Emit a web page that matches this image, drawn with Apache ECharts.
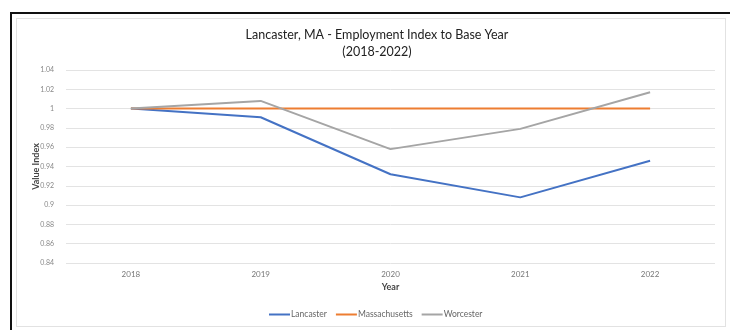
<!DOCTYPE html>
<html>
<head>
<meta charset="utf-8">
<script src="https://cdn.jsdelivr.net/npm/echarts@6/dist/echarts.min.js"></script>
<style>
  html, body { margin: 0; padding: 0; background: #fff; }
  #wrap { position: relative; width: 730px; height: 330px; overflow: hidden; }
  #frame { position: absolute; left: 10px; top: 12px; width: 740px; height: 340px; border: 2px solid #111; box-sizing: border-box; }
  #inner { position: absolute; left: 16px; top: 18px; width: 710px; height: 309px; border: 1px solid #e2e2e2; box-sizing: border-box; }
  #chart { position: absolute; left: 0; top: 0; width: 730px; height: 330px; }
</style>
</head>
<body>
<div id="wrap">
  <div id="frame"></div>
  <div id="inner"></div>
  <div id="chart"></div>
</div>
<script>
// Employment index relative to 2018
const years = ['2018', '2019', '2020', '2021', '2022'];
const lancaster = [1.0, 0.991, 0.932, 0.908, 0.946];
const massachusetts = [1.0, 1.0, 1.0, 1.0, 1.0];
const worcester = [1.0, 1.008, 0.958, 0.979, 1.017];

const chart = echarts.init(document.getElementById('chart'), null, { renderer: 'canvas' });
const font = 'Lato, "Open Sans", sans-serif';

chart.setOption({
  backgroundColor: 'transparent',
  animation: false,
  title: {
    text: 'Lancaster, MA - Employment Index to Base Year\n(2018-2022)',
    left: 372, top: 21, textAlign: 'center',
    textStyle: { fontFamily: font, fontSize: 12.5, fontWeight: 'normal', color: '#222', lineHeight: 17 }
  },
  legend: {
    bottom: 6, left: 264,
    itemWidth: 21, itemHeight: 2, itemGap: 9,
    icon: 'rect',
    textStyle: { fontFamily: font, fontSize: 8.5, color: '#666', padding: [0, 0, 0, -4] },
    data: ['Lancaster', 'Massachusetts', 'Worcester']
  },
  grid: { left: 66, right: 15, top: 70, bottom: 67, containLabel: false },
  xAxis: {
    type: 'category',
    data: years,
    boundaryGap: true,
    name: 'Year', nameLocation: 'middle', nameGap: 19,
    nameTextStyle: { fontFamily: font, fontSize: 9, fontWeight: 'bold', color: '#444' },
    axisLine: { show: false },
    axisTick: { show: false },
    axisLabel: { fontFamily: font, fontSize: 8, color: '#777', margin: 7 }
  },
  yAxis: {
    type: 'value',
    min: 0.84, max: 1.04, interval: 0.02,
    name: 'Value Index', nameLocation: 'middle', nameGap: 25, nameRotate: 90,
    nameMoveOverlap: false,
    nameTextStyle: { fontFamily: font, fontSize: 9, fontWeight: 'bold', color: '#444' },
    axisLine: { show: false },
    axisTick: { show: false },
    axisLabel: {
      fontFamily: font, fontSize: 7, color: '#888', margin: 12,
      formatter: v => String(+v.toFixed(2))
    },
    splitLine: { lineStyle: { color: '#e3e3e3', width: 1 } }
  },
  series: [
    { name: 'Lancaster', type: 'line', data: lancaster, showSymbol: false, symbol: 'none',
      lineStyle: { color: '#4472c4', width: 2 }, itemStyle: { color: '#4472c4' } },
    { name: 'Massachusetts', type: 'line', data: massachusetts, showSymbol: false, symbol: 'none',
      lineStyle: { color: '#ed7d31', width: 2 }, itemStyle: { color: '#ed7d31' } },
    { name: 'Worcester', type: 'line', data: worcester, showSymbol: false, symbol: 'none',
      lineStyle: { color: '#a5a5a5', width: 2 }, itemStyle: { color: '#a5a5a5' } }
  ]
});
</script>
</body>
</html>
